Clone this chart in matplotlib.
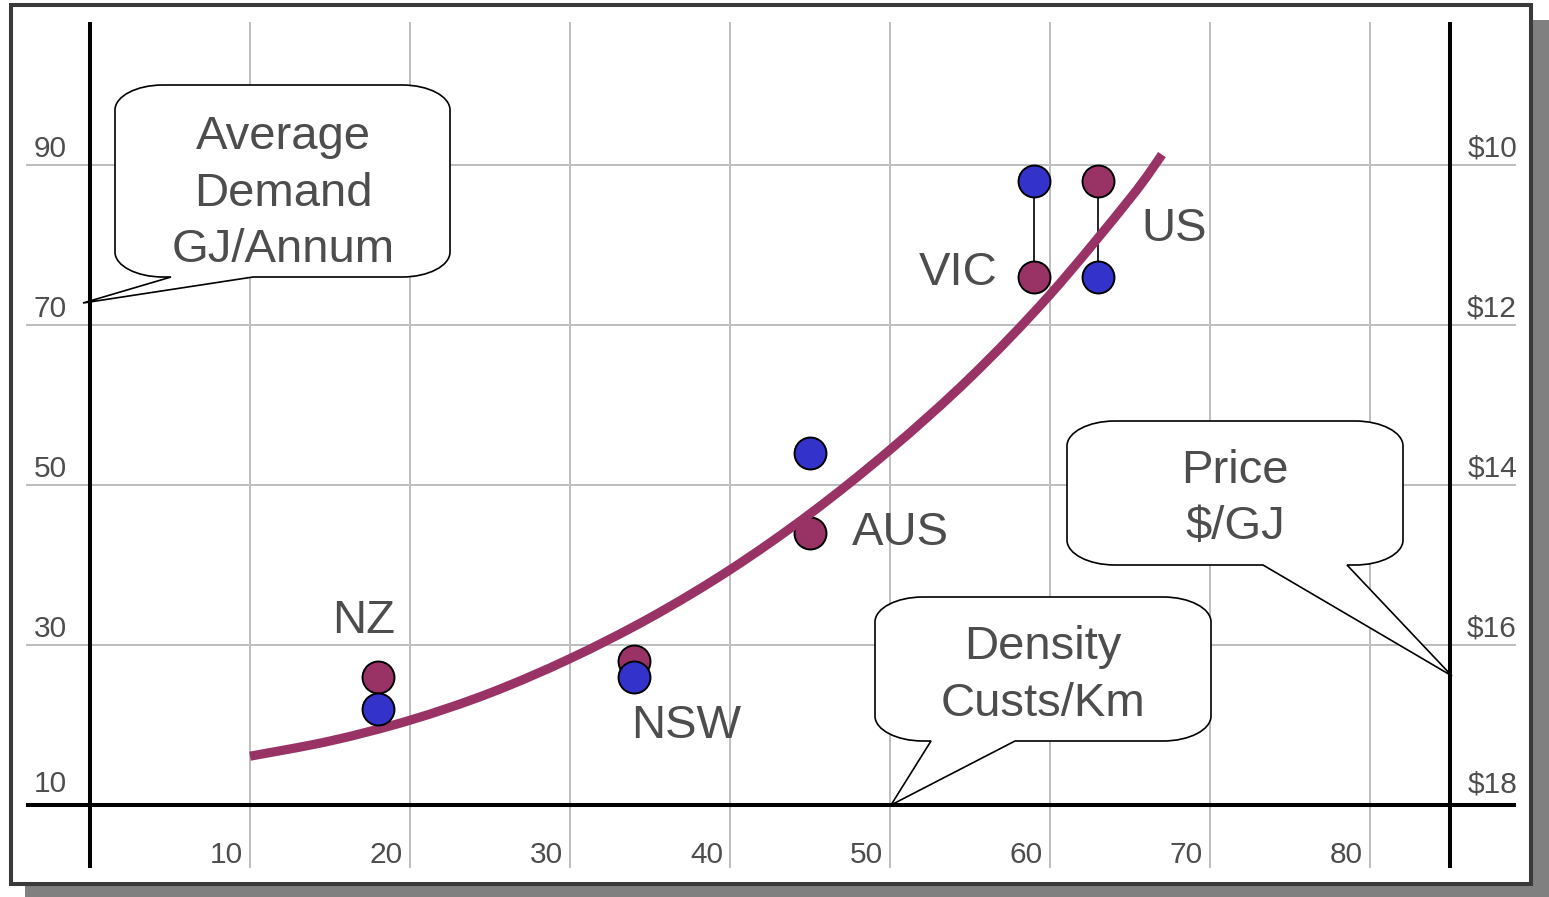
import matplotlib.pyplot as plt
from matplotlib.patches import Rectangle, PathPatch, ConnectionPatch
from matplotlib.path import Path

plt.rcParams['font.family'] = ['Liberation Sans', 'DejaVu Sans']

# network comparison: customer density against demand and gas price
countries = ['NZ', 'NSW', 'AUS', 'VIC', 'US']
density = [18, 34, 45, 59, 63]           # Custs/Km
demand = [26, 28, 44, 76, 88]            # GJ/Annum
price = [16.8, 16.4, 13.6, 10.2, 11.4]   # $/GJ
paired = ['VIC', 'US']

# hand-drawn demand trend
trend_density = [10, 15, 20, 25, 30, 35, 40, 45, 50, 55, 60, 65, 67]
trend_demand = [16.1, 18.0, 20.6, 24.0, 28.3, 33.4, 39.4, 46.4, 54.4, 63.4, 73.8, 85.8, 91.3]

x_ticks = [10, 20, 30, 40, 50, 60, 70, 80]
demand_ticks = [10, 30, 50, 70, 90]
price_ticks = [18, 16, 14, 12, 10]

PURPLE = '#993366'
BLUE = '#3333cc'
GREY_TEXT = '#4d4d4d'
GRID = '#bdbdbd'

W, H = 1549, 897
X0_PX, Y0_PX = 90, 805        # pixel position of (0, 10)
SX, SY = 16, 8                # pixels per unit
X_MAX = 85

fig = plt.figure(figsize=(W / 100, H / 100), dpi=100, facecolor='white')

# background: drop shadow and framed panel, in pixel units
bg = fig.add_axes([0, 0, 1, 1], zorder=0)
bg.set_xlim(0, W)
bg.set_ylim(H, 0)
bg.axis('off')
bg.add_patch(Rectangle((25, 20), W - 25, H - 20, fc='#808080', ec='none'))
bg.add_patch(Rectangle((11, 5.5), 1520, 879, fc='white', ec='#3a3a3a', lw=2.9))

# main data axes spanning the whole figure
ax = fig.add_axes([0, 0, 1, 1], zorder=1)
ax.set_xlim(-X0_PX / SX, (W - X0_PX) / SX)
ax.set_ylim(demand_ticks[0] - (H - Y0_PX) / SY, demand_ticks[0] + Y0_PX / SY)
ax.axis('off')


def price_of(y):
    scale = (price_ticks[-1] - price_ticks[0]) / (demand_ticks[-1] - demand_ticks[0])
    return price_ticks[0] + (y - demand_ticks[0]) * scale


ax2 = ax.twinx()
ax2.set_zorder(2)
lo, hi = ax.get_ylim()
ax2.set_ylim(price_of(lo), price_of(hi))
ax2.axis('off')

y_top = demand_ticks[0] + (Y0_PX - 22) / SY
y_bot = demand_ticks[0] - (868 - Y0_PX) / SY
x_left = -(X0_PX - 26) / SX
x_right = (1516 - X0_PX) / SX

ax.vlines(x_ticks, y_bot, y_top, color=GRID, lw=1.4, zorder=1)
ax.hlines(demand_ticks[1:], x_left, x_right, color=GRID, lw=1.4, zorder=1)
ax.hlines(demand_ticks[0], x_left, x_right, color='black', lw=2.9, zorder=2)
ax.vlines([0, X_MAX], y_bot, y_top, color='black', lw=2.9, zorder=2)

tick_style = dict(textcoords='offset pixels', fontsize=21.5, color=GREY_TEXT)
for v in demand_ticks:
    lift = 13 if v == demand_ticks[0] else 8
    ax.annotate(str(v), xy=(0, v), xytext=(-23, lift), ha='right', va='baseline', **tick_style)
for p in price_ticks:
    lift = 13 if p == price_ticks[0] else 9
    ax2.annotate(f'${p}', xy=(X_MAX, p), xytext=(67, lift), ha='right', va='baseline', **tick_style)
for v in x_ticks:
    ax.annotate(str(v), xy=(v, demand_ticks[0]), xytext=(-7, -58), ha='right', va='baseline', **tick_style)

# connectors between demand and price for paired markets
for name, x, d, p in zip(countries, density, demand, price):
    if name in paired:
        con = ConnectionPatch(xyA=(x, d), coordsA=ax.transData, xyB=(x, p), coordsB=ax2.transData,
                              color='black', lw=1.2, zorder=3)
        ax.add_artist(con)

ax.plot(density, demand, 'o', ms=23, mfc=PURPLE, mec='black', mew=1.4, zorder=4)
ax2.plot(density, price, 'o', ms=23, mfc=BLUE, mec='black', mew=1.4, zorder=4)

# trend drawn as a smooth bezier through the read points
pts = list(zip(trend_density, trend_demand))
ext = [pts[0]] + pts + [pts[-1]]
verts, codes = [pts[0]], [Path.MOVETO]
for i in range(1, len(ext) - 2):
    p0, p1, p2, p3 = ext[i - 1], ext[i], ext[i + 1], ext[i + 2]
    c1 = (p1[0] + (p2[0] - p0[0]) / 6, p1[1] + (p2[1] - p0[1]) / 6)
    c2 = (p2[0] - (p3[0] - p1[0]) / 6, p2[1] - (p3[1] - p1[1]) / 6)
    verts += [c1, c2, p2]
    codes += [Path.CURVE4] * 3
ax.add_patch(PathPatch(Path(verts, codes), fill=False, ec=PURPLE, lw=6.6,
                       capstyle='butt', zorder=5))

label_offsets = [(-14, 44), (52, -77), (90, -12), (-76, -8), (76, -60)]
for name, x, d, off in zip(countries, density, demand, label_offsets):
    ax.annotate(name, xy=(x, d), xytext=off, textcoords='offset pixels',
                ha='center', va='baseline', fontsize=34, color=GREY_TEXT, zorder=6)

# speech-bubble callouts, in pixel units
fg = fig.add_axes([0, 0, 1, 1], zorder=3)
fg.set_xlim(0, W)
fg.set_ylim(H, 0)
fg.axis('off')


def callout(axis, box, base, tip, text, center, rx=48, ry=25):
    x0, y0, x1, y1 = box
    a, b = base
    k = 0.5523
    verts = [(x0 + rx, y0), (x1 - rx, y0),
             (x1 - rx + k * rx, y0), (x1, y0 + ry - k * ry), (x1, y0 + ry),
             (x1, y1 - ry),
             (x1, y1 - ry + k * ry), (x1 - rx + k * rx, y1), (x1 - rx, y1),
             (b, y1), tip, (a, y1), (x0 + rx, y1),
             (x0 + rx - k * rx, y1), (x0, y1 - ry + k * ry), (x0, y1 - ry),
             (x0, y0 + ry),
             (x0, y0 + ry - k * ry), (x0 + rx - k * rx, y0), (x0 + rx, y0),
             (x0 + rx, y0)]
    codes = ([Path.MOVETO, Path.LINETO] + [Path.CURVE4] * 3 + [Path.LINETO] + [Path.CURVE4] * 3
             + [Path.LINETO] * 4 + [Path.CURVE4] * 3 + [Path.LINETO] + [Path.CURVE4] * 3
             + [Path.CLOSEPOLY])
    axis.add_patch(PathPatch(Path(verts, codes), fc='white', ec='black', lw=1.2, joinstyle='miter'))
    axis.text(center[0], center[1], text, ha='center', va='center', fontsize=34,
              linespacing=1.37, color=GREY_TEXT)


callout(fg, (115, 85, 450, 277), (171, 253), (83, 303), 'Average\nDemand\nGJ/Annum', (283, 193.5))
callout(fg, (1067, 421, 1403, 565), (1263, 1347), (1452, 676), 'Price\n$/GJ', (1235, 499))
callout(fg, (875, 597, 1211, 741), (931, 1015), (891, 805), 'Density\nCusts/Km', (1043, 675.5))

fig.savefig('out.png', dpi=100, facecolor='white')
